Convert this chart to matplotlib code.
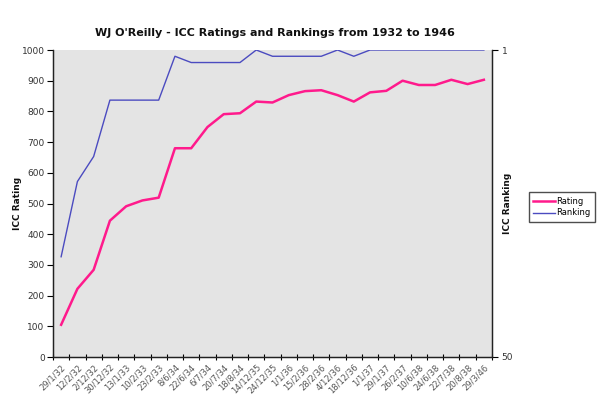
import matplotlib
matplotlib.use("Agg")
import matplotlib.pyplot as plt
from matplotlib.lines import Line2D

dates = ["29/1/32", "12/2/32", "2/12/32", "30/12/32", "13/1/33", "10/2/33", "23/2/33",
         "8/6/34", "22/6/34", "6/7/34", "20/7/34", "18/8/34", "14/12/35", "24/12/35",
         "1/1/36", "15/2/36", "28/2/36", "4/12/36", "18/12/36", "1/1/37", "29/1/37",
         "26/2/37", "10/6/38", "24/6/38", "22/7/38", "20/8/38", "29/3/46"]
rating = [105, 222, 284, 444, 491, 510, 519, 680, 680, 749, 791, 794, 832, 829,
          853, 866, 869, 853, 832, 862, 867, 900, 886, 886, 903, 889, 903]
ranking = [34, 22, 18, 9, 9, 9, 9, 2, 3, 3, 3, 3, 1, 2, 2, 2, 2, 1, 2, 1, 1, 1,
           1, 1, 1, 1, 1]

fig = plt.figure(figsize=(6.0, 4.11), dpi=100)
ax = fig.add_axes([53/600, 1-357/411, (492-53)/600, (357-50)/411])
ax.set_facecolor("#E4E4E4")
x = list(range(len(dates)))

rating_color = "#FF1A8C"
rank_color = "#4B4BC0"

ax.plot(x, rating, color=rating_color, lw=1.8, zorder=3)
ax.set_xlim(-0.5, len(dates) - 0.5)
ax.set_ylim(0, 1000)
ax.set_yticks(range(0, 1001, 100))
ax.tick_params(axis="y", labelsize=6.5, labelcolor="#333333", length=4, width=0.8, direction="out", pad=2)
ax.set_xticks(x)
ax.set_xticklabels(dates, rotation=45, ha="right", rotation_mode="anchor",
                   fontsize=6, color="#555555")
ax.tick_params(axis="x", which="major", length=0, pad=4)
ax.set_xticks([i - 0.5 for i in range(len(dates) + 1)], minor=True)
ax.tick_params(axis="x", which="minor", length=5, width=0.8, direction="inout")

ax2 = ax.twinx()
ax2.plot(x, ranking, color=rank_color, lw=1.0, zorder=3)
ax2.set_ylim(50, 1)
ax2.set_yticks([1, 50])
ax2.tick_params(axis="y", labelsize=6.5, labelcolor="#333333", length=4, width=0.8, direction="out", pad=3)

for a in (ax, ax2):
    a.spines["top"].set_visible(False)
    for s in ("left", "right", "bottom"):
        a.spines[s].set_color("#222222")
        a.spines[s].set_linewidth(0.9)

fig.text(275/600, 1-33/411, "WJ O'Reilly - ICC Ratings and Rankings from 1932 to 1946",
         ha="center", va="center", fontsize=8, fontweight="bold", color="#111111")
fig.text(17/600, 1-203/411, "ICC Rating", rotation=90, ha="center", va="center",
         fontsize=6.5, fontweight="bold", color="#111111")
fig.text(508/600, 1-203/411, "ICC Ranking", rotation=90, ha="center", va="center",
         fontsize=6.5, fontweight="bold", color="#111111")

handles = [Line2D([], [], color=rating_color, lw=1.8), Line2D([], [], color=rank_color, lw=1.0)]
fig.legend(handles, ["Rating", "Ranking"], loc="center", bbox_to_anchor=(562/600, 1-207/411),
           fontsize=6, frameon=True, fancybox=False, edgecolor="#222222",
           handlelength=2.6, handletextpad=0.2, borderpad=0.5, labelspacing=0.35,
           borderaxespad=0)

fig.savefig("out.png", dpi=100, facecolor="white")
